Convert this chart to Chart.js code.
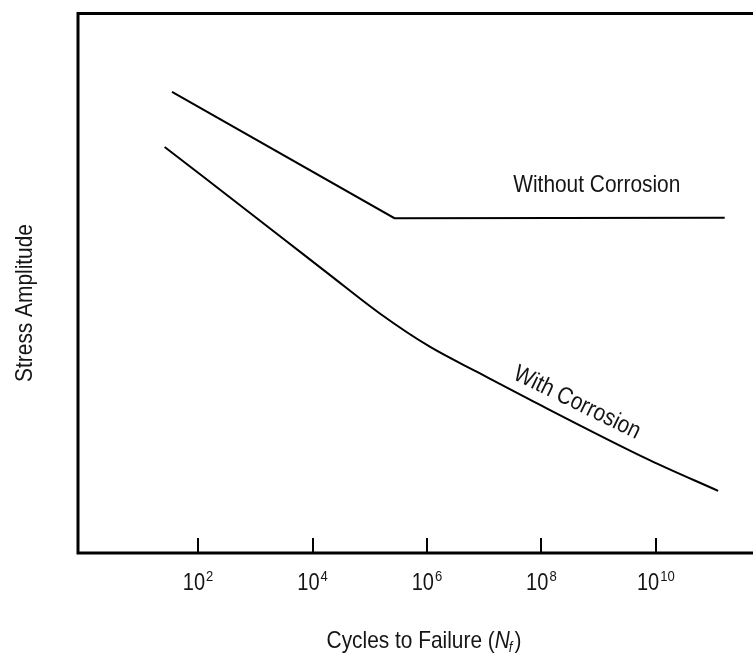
<!DOCTYPE html>
<html>
<head>
<meta charset="utf-8">
<title>Stress amplitude vs cycles to failure</title>
<script src="https://cdn.jsdelivr.net/npm/chart.js@4.4.1/dist/chart.umd.min.js"></script>
<style>
  html, body { margin: 0; padding: 0; background: #fff; }
  canvas { display: block; }
</style>
</head>
<body>
<canvas id="sn" width="753" height="653"></canvas>
<script>
// donnees (cycles, amplitude en unites relatives 0-100)
var noCorrCycles = [35, 2.7e5, 1.6e11];
var noCorrStress = [85.4, 62.0, 62.1];

var corrCycles = [26, 3.0e3, 2.0e4, 1.48e5, 1.12e6, 8.3e6, 6.3e7, 7.8e9, 1.23e11];
var corrStress = [75.2, 58.3, 51.5, 44.4, 38.2, 33.3, 28.4, 17.2, 11.5];

// graduations de l'axe x (puissances de 10)
var xTickExps = [2, 4, 6, 8, 10];

var FONT = '"Liberation Sans", Arial, sans-serif';
var SX = 0.87; // police un peu condensee comme sur l'original

function toPoints(xs, ys) {
    return xs.map(function (x, i) { return { x: x, y: ys[i] }; });
}

// texte condense horizontalement
function narrowText(ctx, txt, x, y) {
    ctx.save();
    ctx.translate(x, y);
    ctx.scale(SX, 1);
    ctx.fillText(txt, 0, 0);
    ctx.restore();
}

function textW(ctx, font, txt) {
    ctx.font = font;
    return ctx.measureText(txt).width * SX;
}

//////////////////////////////////////////////////////////////////////////
// cadre, graduations, textes
var decorPlugin = {
    id: 'decor',
    afterDraw: function (chart) {
        var ctx = chart.ctx;
        var area = chart.chartArea;
        var xs = chart.scales.x;
        var ys = chart.scales.y;
        ctx.save();

        // cadre (haut, gauche, bas)
        ctx.strokeStyle = '#000';
        ctx.lineWidth = 3;
        ctx.beginPath();
        ctx.moveTo(chart.width + 5, area.top + 0.5);
        ctx.lineTo(area.left + 1, area.top + 0.5);
        ctx.lineTo(area.left + 1, area.bottom);
        ctx.lineTo(chart.width + 5, area.bottom);
        ctx.stroke();

        // petites graduations vers l'interieur
        ctx.lineWidth = 2;
        xTickExps.forEach(function (e) {
            var px = Math.round(xs.getPixelForValue(Math.pow(10, e)));
            ctx.beginPath();
            ctx.moveTo(px, area.bottom);
            ctx.lineTo(px, area.bottom - 15);
            ctx.stroke();
        });

        // etiquettes 10^n
        ctx.fillStyle = '#151515';
        ctx.textBaseline = 'alphabetic';
        ctx.textAlign = 'left';
        var fBase = '23px ' + FONT;
        var fExp = '15px ' + FONT;
        xTickExps.forEach(function (e) {
            var px = xs.getPixelForValue(Math.pow(10, e));
            var wBase = textW(ctx, fBase, '10');
            var wExp = textW(ctx, fExp, String(e));
            var x0 = px - (wBase + wExp + 1) / 2;
            ctx.font = fBase;
            narrowText(ctx, '10', x0, area.bottom + 37);
            ctx.font = fExp;
            narrowText(ctx, String(e), x0 + wBase + 1, area.bottom + 28);
        });

        // titre axe x : Cycles to Failure (Nf)
        var tx = area.left + 347;
        var ty = area.bottom + 95;
        var fT = '24px ' + FONT;
        var fTi = 'italic 24px ' + FONT;
        var fSub = 'italic 15px ' + FONT;
        var p1 = 'Cycles to Failure (';
        var w1 = textW(ctx, fT, p1);
        var wN = textW(ctx, fTi, 'N');
        var wf = textW(ctx, fSub, 'f');
        var wc = textW(ctx, fT, ')');
        var start = tx - (w1 + wN + wf + wc + 1) / 2;
        ctx.font = fT;
        narrowText(ctx, p1, start, ty);
        ctx.font = fTi;
        narrowText(ctx, 'N', start + w1, ty);
        ctx.font = fSub;
        narrowText(ctx, 'f', start + w1 + wN - 1, ty + 4);
        ctx.font = fT;
        narrowText(ctx, ')', start + w1 + wN + wf + 1, ty);

        // titre axe y
        ctx.save();
        ctx.translate(32, area.top + 290);
        ctx.rotate(-Math.PI / 2);
        ctx.textAlign = 'center';
        ctx.font = fT;
        narrowText(ctx, 'Stress Amplitude', 0, 0);
        ctx.restore();

        // etiquettes des courbes
        ctx.textAlign = 'center';
        ctx.font = fT;
        narrowText(ctx, 'Without Corrosion', xs.getPixelForValue(9.3e8), ys.getPixelForValue(66.9));

        ctx.save();
        ctx.translate(xs.getPixelForValue(4.2e8), ys.getPixelForValue(27.8));
        ctx.rotate(26 * Math.PI / 180);
        ctx.textBaseline = 'middle';
        narrowText(ctx, 'With Corrosion', 0, 0);
        ctx.restore();

        ctx.restore();
    }
};

//////////////////////////////////////////////////////////////////////////
// Créer le graphique S-N
var ctxSn = document.getElementById('sn').getContext('2d');
var snChart = new Chart(ctxSn, {
    type: 'line',
    data: {
        datasets: [{
            label: 'Without Corrosion',
            data: toPoints(noCorrCycles, noCorrStress),
            borderColor: '#000',
            borderWidth: 2,
            pointRadius: 0,
            tension: 0
        }, {
            label: 'With Corrosion',
            data: toPoints(corrCycles, corrStress),
            borderColor: '#000',
            borderWidth: 2,
            pointRadius: 0,
            cubicInterpolationMode: 'monotone'
        }]
    },
    options: {
        responsive: false,
        animation: false,
        layout: { padding: { left: 77, top: 13, right: 0, bottom: 100 } },
        scales: {
            x: { type: 'logarithmic', min: 0.764, max: 5.0e11, display: false },
            y: { type: 'linear', min: 0, max: 100, display: false }
        },
        plugins: {
            legend: { display: false },
            tooltip: { enabled: false }
        }
    },
    plugins: [decorPlugin]
});
</script>
</body>
</html>
